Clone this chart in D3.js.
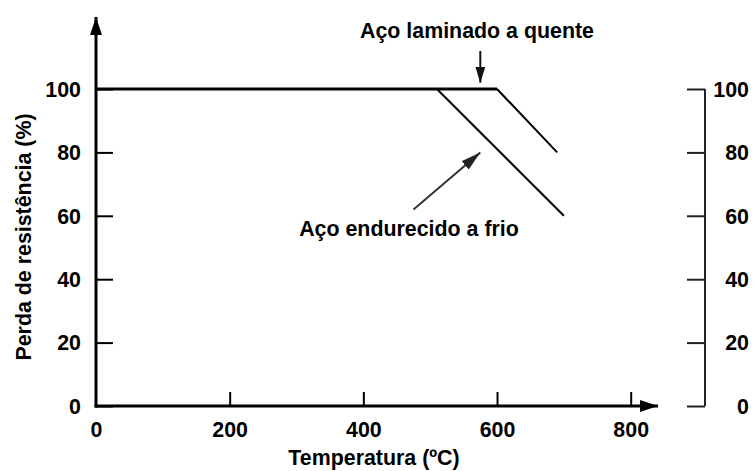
<!DOCTYPE html>
<html>
<head>
<meta charset="utf-8">
<script src="https://cdn.jsdelivr.net/npm/d3@7"></script>
<style>
  body { margin: 0; background: #fff; }
  text { font-family: "Liberation Sans", Arial, sans-serif; font-weight: bold; fill: #000; }
</style>
</head>
<body>
<div id="chart"></div>
<script>
// dados do gráfico
const tempTicks = [0, 200, 400, 600, 800];
const perdaTicks = [0, 20, 40, 60, 80, 100];
const laminadoQuente = [{ t: 0, p: 100 }, { t: 600, p: 100 }, { t: 690, p: 80 }];
const endurecidoFrio = [{ t: 510, p: 100 }, { t: 700, p: 60 }];
// setas de anotação (em unidades dos dados)
const setaQuente = [{ t: 575, p: 112 }, { t: 575, p: 102 }];
const setaFrio = [{ t: 475, p: 62 }, { t: 575, p: 80 }];

const width = 753, height = 471;
const fontSize = 23;
const sx = 0.93; // fonte um pouco condensada

const svg = d3.select("#chart")
    .append("svg")
    .attr("width", width)
    .attr("height", height);

svg.append("rect").attr("width", width).attr("height", height).attr("fill", "#fff");

const x = d3.scaleLinear().domain([0, 800]).range([96, 630.7]);
const y = d3.scaleLinear().domain([0, 100]).range([406, 89]);

const defs = svg.append("defs");
function marker(id, w, h, color) {
    defs.append("marker")
        .attr("id", id)
        .attr("viewBox", `0 0 ${w} ${h}`)
        .attr("refX", w).attr("refY", h / 2)
        .attr("markerWidth", w).attr("markerHeight", h)
        .attr("markerUnits", "userSpaceOnUse")
        .attr("orient", "auto")
        .append("path")
        .attr("d", `M0,0L${w},${h / 2}L0,${h}Z`)
        .attr("fill", color);
}
marker("seta-eixo", 18, 12, "#000");
marker("seta-nota", 16, 10, "#111");
marker("seta-nota2", 20, 11, "#222");

function estiloTexto(sel) {
    sel.style("font-size", fontSize + "px").attr("fill", "#000");
}

// eixo Y esquerdo
const eixoY = svg.append("g")
    .attr("transform", `translate(${x(0)},0)`)
    .call(d3.axisLeft(y).tickValues(perdaTicks).tickSize(-17));
eixoY.select(".domain").remove();
eixoY.selectAll(".tick line").attr("stroke", "#000").attr("stroke-width", 2);
eixoY.selectAll(".tick text").call(estiloTexto)
    .attr("x", -15 / sx).attr("transform", `scale(${sx},1)`);

// eixo X
const eixoX = svg.append("g")
    .attr("transform", `translate(0,${y(0)})`)
    .call(d3.axisBottom(x).tickValues(tempTicks).tickSize(-14).tickPadding(15));
eixoX.select(".domain").remove();
eixoX.selectAll(".tick line").attr("stroke", "#000").attr("stroke-width", 2)
    .filter(d => d === 0).remove();
eixoX.selectAll(".tick text").call(estiloTexto).attr("transform", `scale(${sx},1)`);

// linhas dos eixos com setas
svg.append("line")
    .attr("x1", x(0)).attr("y1", y(0) + 1.5)
    .attr("x2", x(0)).attr("y2", 17)
    .attr("stroke", "#000").attr("stroke-width", 3)
    .attr("marker-end", "url(#seta-eixo)");
svg.append("line")
    .attr("x1", x(0) - 1.5).attr("y1", y(0))
    .attr("x2", 658).attr("y2", y(0))
    .attr("stroke", "#000").attr("stroke-width", 3)
    .attr("marker-end", "url(#seta-eixo)");

// eixo Y direito
const eixoD = svg.append("g")
    .attr("transform", "translate(705,0)")
    .call(d3.axisRight(y).tickValues(perdaTicks).tickSize(-18).tickPadding(0));
eixoD.select(".domain").attr("stroke", "#222").attr("stroke-width", 2)
    .attr("d", `M0,${y(0)}V${y(100)}`);
eixoD.selectAll(".tick line").attr("stroke", "#222").attr("stroke-width", 2);
eixoD.selectAll(".tick text").call(estiloTexto)
    .attr("x", 44 / sx).attr("text-anchor", "end")
    .attr("transform", `scale(${sx},1)`);

// curvas
function desenhaSegmentos(dados) {
    d3.pairs(dados).forEach(([a, b]) => {
        svg.append("line")
            .attr("x1", x(a.t)).attr("y1", y(a.p))
            .attr("x2", x(b.t)).attr("y2", y(b.p))
            .attr("stroke", "#000")
            .attr("stroke-width", a.p === b.p ? 3 : 2);
    });
}
desenhaSegmentos(laminadoQuente);
desenhaSegmentos(endurecidoFrio);

// anotações
svg.append("line")
    .attr("x1", x(setaQuente[0].t)).attr("y1", y(setaQuente[0].p))
    .attr("x2", x(setaQuente[1].t)).attr("y2", y(setaQuente[1].p))
    .attr("stroke", "#111").attr("stroke-width", 2)
    .attr("marker-end", "url(#seta-nota)");
svg.append("line")
    .attr("x1", x(setaFrio[0].t)).attr("y1", y(setaFrio[0].p))
    .attr("x2", x(setaFrio[1].t)).attr("y2", y(setaFrio[1].p))
    .attr("stroke", "#333").attr("stroke-width", 2)
    .attr("marker-end", "url(#seta-nota2)");

function rotulo(px, py, rot, txt) {
    svg.append("text")
        .attr("transform", `translate(${px},${py}) rotate(${rot}) scale(${sx},1)`)
        .attr("text-anchor", "middle")
        .call(estiloTexto)
        .text(txt);
}
rotulo(477, 38, 0, "Aço laminado a quente");
rotulo(409, 236, 0, "Aço endurecido a frio");

// títulos dos eixos
rotulo(374, 465, 0, "Temperatura (ºC)");
rotulo(31, 237, -90, "Perda de resistência (%)");
</script>
</body>
</html>
